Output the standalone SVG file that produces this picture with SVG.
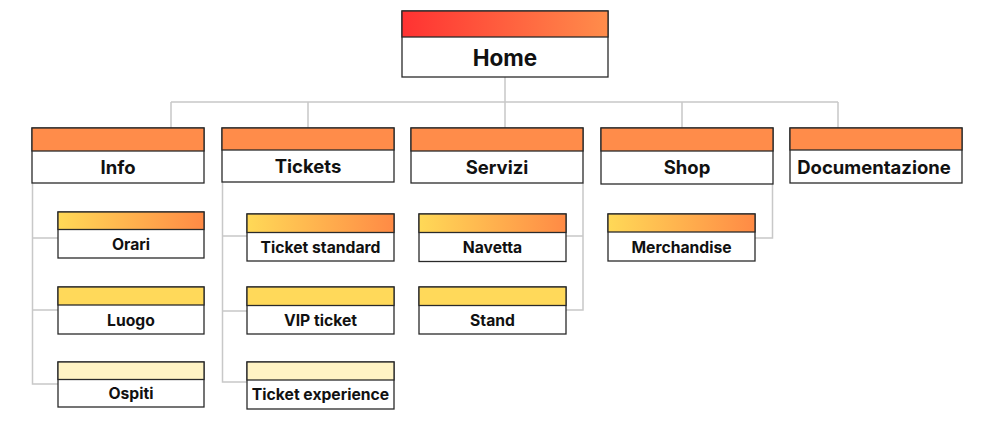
<svg xmlns="http://www.w3.org/2000/svg" width="988" height="424" viewBox="0 0 988 424">
<defs>
<linearGradient id="gHome" x1="0" y1="0" x2="1" y2="0"><stop offset="0" stop-color="#FF3232"/><stop offset="1" stop-color="#FF8D4B"/></linearGradient>
<linearGradient id="gChild" x1="0" y1="0" x2="1" y2="0"><stop offset="0" stop-color="#FFD957"/><stop offset="1" stop-color="#FF8A45"/></linearGradient>
<style>
.bx{fill:#fff;stroke:#2a2a2a;stroke-width:1.3}
.hd{stroke:#2a2a2a;stroke-width:1.3}
.l1h{fill:#FF8C4A}
.c2{fill:#FFD95A}
.c3{fill:#FFF3C4}
.cn{fill:none;stroke:#c8c8c8;stroke-width:1.5}
text{font-family:Inter,"Liberation Sans",sans-serif;font-weight:700;fill:#111;text-anchor:middle}
.t0{font-size:22.5px}
.t1{font-size:18.5px}
.t2{font-size:15.7px}
</style>
</defs>
<rect width="988" height="424" fill="#fff"/>
<g id="connectors">
<path class="cn" d="M505 77V102M171 102H838M171 102V128M308 102V128M505 102V128M682 102V128M838 102V128"/>
<path class="cn" d="M32.5 183V384H58M32.5 238H58M32.5 310H58"/>
<path class="cn" d="M222.5 182V382H247M222.5 236H247M222.5 311H247"/>
<path class="cn" d="M583 183V310H566M583 236H566"/>
<path class="cn" d="M772.5 184V238H755"/>
</g>
<g id="home">
<rect class="bx" x="402" y="11" width="206" height="66"/>
<rect class="hd" x="402" y="11" width="206" height="26" fill="url(#gHome)"/>
<text class="t0" x="505" y="66">Home</text>
</g>
<g id="info">
<rect class="bx" x="32" y="128" width="172" height="55"/>
<rect class="hd l1h" x="32" y="128" width="172" height="23"/>
<text class="t1" x="118" y="174">Info</text>
</g>
<g id="tickets">
<rect class="bx" x="222" y="128" width="172" height="54"/>
<rect class="hd l1h" x="222" y="128" width="172" height="22"/>
<text class="t1" x="308" y="173">Tickets</text>
</g>
<g id="servizi">
<rect class="bx" x="411" y="128" width="172" height="55"/>
<rect class="hd l1h" x="411" y="128" width="172" height="23"/>
<text class="t1" x="497" y="174">Servizi</text>
</g>
<g id="shop">
<rect class="bx" x="601" y="128" width="172" height="56"/>
<rect class="hd l1h" x="601" y="128" width="172" height="23"/>
<text class="t1" x="687" y="174">Shop</text>
</g>
<g id="documentazione">
<rect class="bx" x="790" y="128" width="172" height="55"/>
<rect class="hd l1h" x="790" y="128" width="172" height="22"/>
<text class="t1" x="874" y="174">Documentazione</text>
</g>
<g id="orari">
<rect class="bx" x="58" y="212" width="146" height="46"/>
<rect class="hd" x="58" y="212" width="146" height="17.5" fill="url(#gChild)"/>
<text class="t2" x="131" y="250">Orari</text>
</g>
<g id="luogo">
<rect class="bx" x="58" y="287" width="146" height="47"/>
<rect class="hd c2" x="58" y="287" width="146" height="18"/>
<text class="t2" x="131" y="326">Luogo</text>
</g>
<g id="ospiti">
<rect class="bx" x="58" y="362" width="146" height="45"/>
<rect class="hd c3" x="58" y="362" width="146" height="17.5"/>
<text class="t2" x="131" y="399">Ospiti</text>
</g>
<g id="ticket-standard">
<rect class="bx" x="247" y="214" width="147" height="47"/>
<rect class="hd" x="247" y="214" width="147" height="18.5" fill="url(#gChild)"/>
<text class="t2" x="320.5" y="253">Ticket standard</text>
</g>
<g id="vip-ticket">
<rect class="bx" x="247" y="287" width="147" height="47"/>
<rect class="hd c2" x="247" y="287" width="147" height="18.5"/>
<text class="t2" x="320.5" y="326">VIP ticket</text>
</g>
<g id="ticket-experience">
<rect class="bx" x="247" y="362" width="147" height="47"/>
<rect class="hd c3" x="247" y="362" width="147" height="18"/>
<text class="t2" x="320.5" y="400">Ticket experience</text>
</g>
<g id="navetta">
<rect class="bx" x="419" y="214" width="147" height="47.5"/>
<rect class="hd" x="419" y="214" width="147" height="18.5" fill="url(#gChild)"/>
<text class="t2" x="492.5" y="253">Navetta</text>
</g>
<g id="stand">
<rect class="bx" x="419" y="287" width="147" height="47"/>
<rect class="hd c2" x="419" y="287" width="147" height="18.5"/>
<text class="t2" x="492.5" y="326">Stand</text>
</g>
<g id="merchandise">
<rect class="bx" x="608" y="214" width="147" height="47"/>
<rect class="hd" x="608" y="214" width="147" height="18" fill="url(#gChild)"/>
<text class="t2" x="681.5" y="253">Merchandise</text>
</g>
</svg>
